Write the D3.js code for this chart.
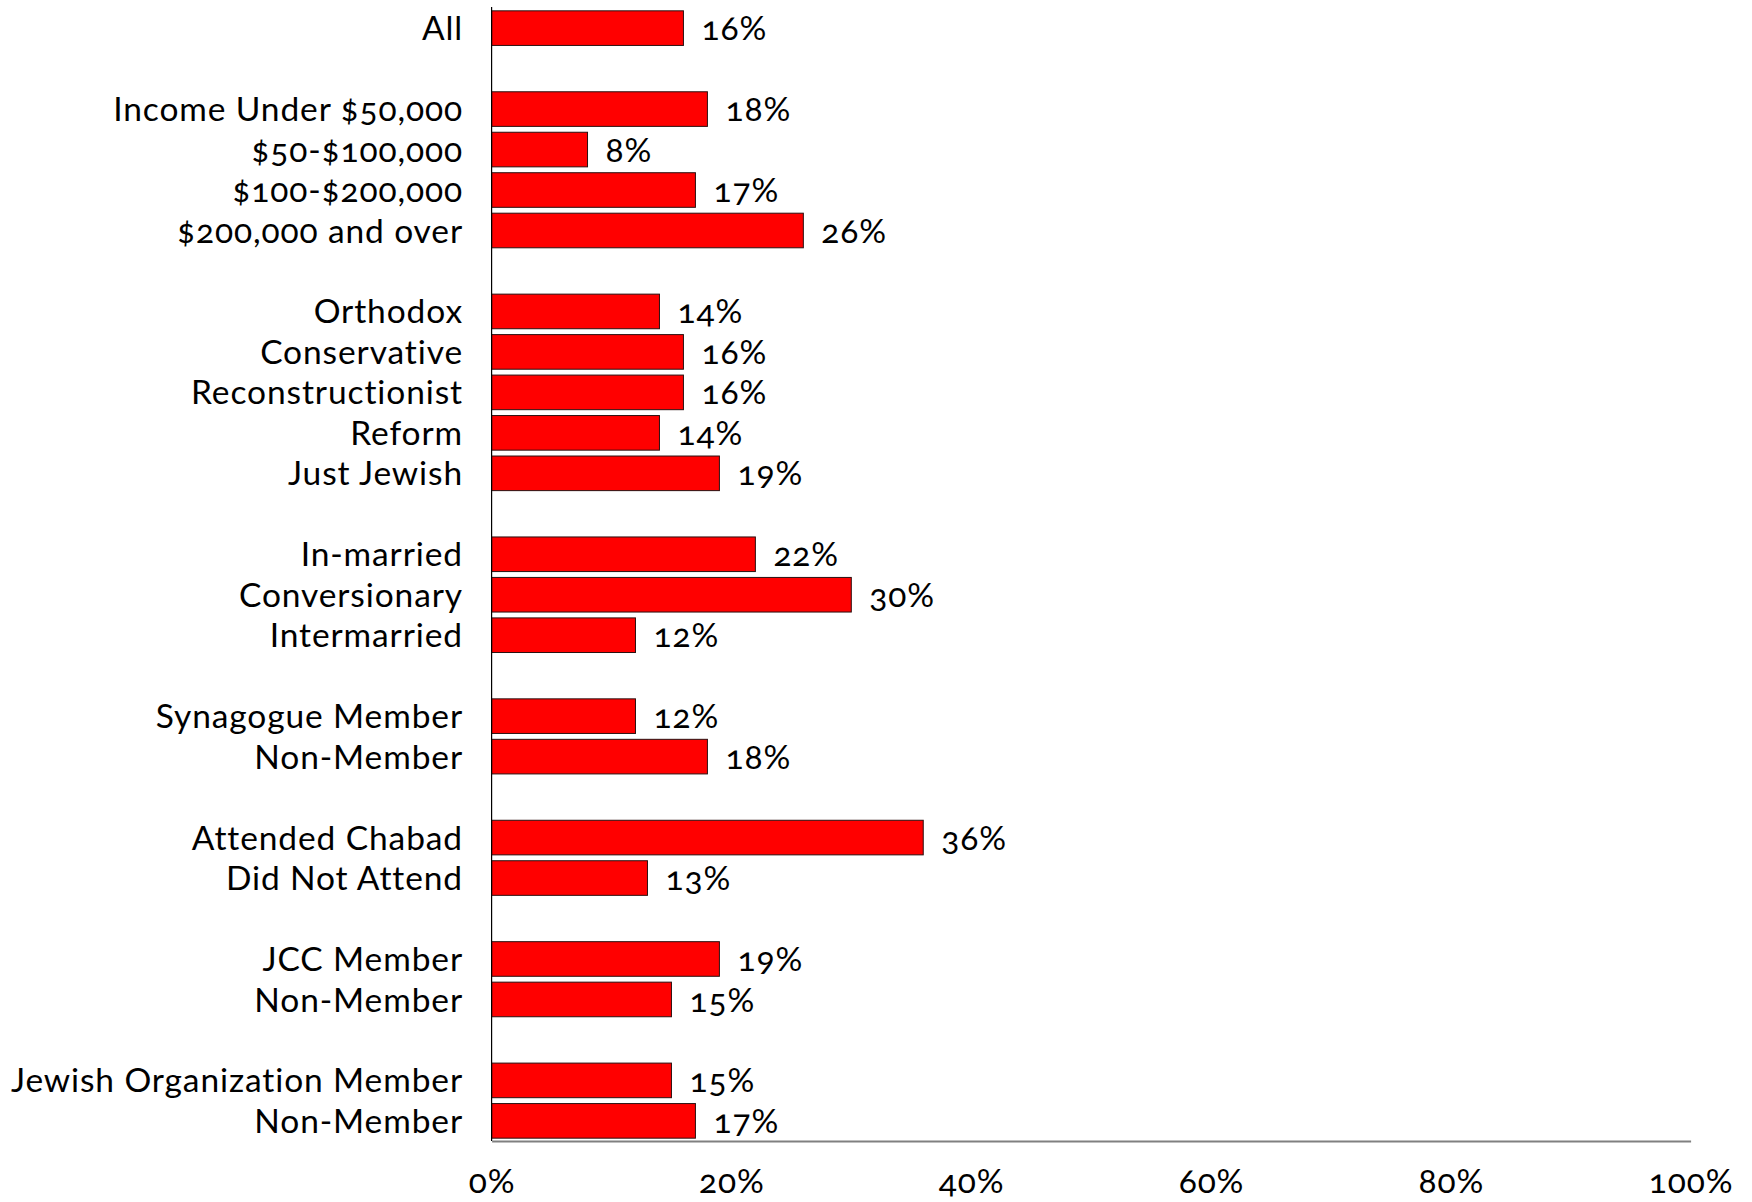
<!DOCTYPE html>
<html><head><meta charset="utf-8">
<script src="https://cdn.jsdelivr.net/npm/d3@7"></script>
<style>
html,body{margin:0;padding:0;background:#fff;}
text{font-family:Lato,"Noto Sans",sans-serif;font-variant-numeric:oldstyle-nums;fill:#000;}
</style></head>
<body><svg id="chart" width="1752" height="1202"></svg>
<script>
const categories = ["All",
  "Income Under $50,000","$50-$100,000","$100-$200,000","$200,000 and over",
  "Orthodox","Conservative","Reconstructionist","Reform","Just Jewish",
  "In-married","Conversionary","Intermarried",
  "Synagogue Member","Non-Member",
  "Attended Chabad","Did Not Attend",
  "JCC Member","Non-Member",
  "Jewish Organization Member","Non-Member"];
const groups = [0,1,1,1,1,2,2,2,2,2,3,3,3,4,4,5,5,6,6,7,7];
const values = [16,18,8,17,26,14,16,16,14,19,22,30,12,12,18,36,13,19,15,15,17];
const tickValues = [0,20,40,60,80,100];

// build row slots: a blank slot between groups
const rows = [];
let prevG = null;
categories.forEach((c,i)=>{
  if(prevG!==null && groups[i]!==prevG) rows.push("gap"+groups[i]);
  rows.push("r"+i);
  prevG = groups[i];
});

const svg = d3.select("#chart");
const x = d3.scaleLinear().domain([0,100]).range([491.6,1690.6]);
const y = d3.scaleBand().domain(rows).range([8,1141]).paddingInner(0.145).paddingOuter(0.07);
const FS = 33.5;
const LS = "0.9px";

// bars
svg.selectAll("rect.bar").data(values).join("rect")
  .attr("class","bar")
  .attr("x", x(0))
  .attr("y",(d,i)=>y("r"+i))
  .attr("width",d=>x(d)-x(0))
  .attr("height",y.bandwidth())
  .attr("fill","#ff0000")
  .attr("stroke","#2a1010")
  .attr("stroke-width",1);

// value labels
svg.selectAll("text.val").data(values).join("text")
  .attr("class","val")
  .attr("x",d=>x(d)+18)
  .attr("y",(d,i)=>y("r"+i)+y.bandwidth()/2)
  .attr("dy","0.36em")
  .attr("font-size",FS)
  .style("letter-spacing",LS)
  .text(d=>d+"%");

// category labels
svg.selectAll("text.cat").data(categories).join("text")
  .attr("class","cat")
  .attr("x",463)
  .attr("y",(d,i)=>y("r"+i)+y.bandwidth()/2)
  .attr("dy","0.36em")
  .attr("text-anchor","end")
  .attr("font-size",FS)
  .style("letter-spacing",LS)
  .text(d=>d);

// vertical axis line
svg.append("line").attr("x1",x(0)).attr("x2",x(0)).attr("y1",7).attr("y2",1141)
  .attr("stroke","#000").attr("stroke-width",1.2);

// bottom axis
const xAxis = d3.axisBottom(x).tickValues(tickValues).tickSize(0).tickPadding(28).tickFormat(d=>d+"%");
const gx = svg.append("g").attr("transform","translate(0,1141)").call(xAxis);
gx.select(".domain").attr("stroke","#808080").attr("stroke-width",2);
gx.selectAll("text").attr("font-size",FS).attr("font-family","Lato, Noto Sans").style("font-variant-numeric","oldstyle-nums").style("letter-spacing",LS).attr("fill","#000");
</script></body></html>
